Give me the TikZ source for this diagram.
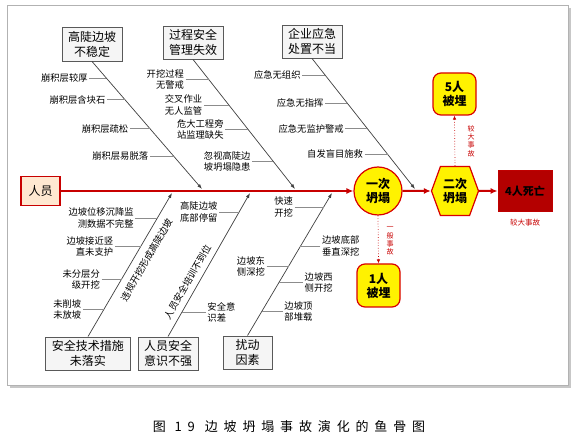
\documentclass[tikz,border=0pt]{standalone}
\usepackage{fontspec}
\setmainfont{Noto Sans CJK SC}
\newfontfamily\capfont[LetterSpace=45]{Noto Sans CJK SC}
\usetikzlibrary{shapes.symbols, arrows.meta, positioning, calc}
\definecolor{spinered}{RGB}{200,0,0}
\tikzstyle{cause}=[draw=black!65,fill=black!4,line width=0.9pt,align=center,font=\fontsize{12}{15}\selectfont,inner sep=3pt]
\tikzstyle{lab}=[font=\fontsize{9.3}{11.5}\selectfont,inner sep=1.5pt]
\tikzstyle{labl}=[lab,align=right]
\tikzstyle{labr}=[lab,align=left]
\tikzstyle{bone}=[draw=black!75,line width=0.7pt,-{Latex[length=5pt,width=3.5pt]}]
\tikzstyle{twig}=[draw=black!45,line width=0.5pt]
\tikzstyle{event}=[draw=red!85!black,fill=yellow,line width=1.2pt,align=center,font=\fontsize{12}{14}\selectfont\bfseries]
\tikzstyle{spine}=[draw=spinered,line width=2pt,-{Latex[length=7pt,width=6pt]}]
\tikzstyle{branch}=[draw=spinered,line width=0.7pt,dotted,-{Latex[length=4pt,width=3.5pt]}]
\tikzstyle{tag}=[text=spinered,align=center,inner sep=1pt]

\begin{document}
\begin{tikzpicture}[x=1pt,y=-1pt]
    \useasboundingbox (0,0) rectangle (582,438);
    % frame
    \fill[black!22] (10,8) rectangle (571,388);
    \draw[black!30,fill=white] (7,5) rectangle (568,385);

    % head and events
    \node[draw=spinered,fill=orange!18,line width=1.5pt,minimum width=39pt,minimum height=29pt,font=\fontsize{12}{14}\selectfont] (ry) at (40.5,191) {人员};
    \node[event,circle,minimum size=48pt,inner sep=0pt] (c1) at (378,191) {一次\\坍塌};
    \node[event,signal,signal to=east and west,signal pointer angle=140,minimum width=47pt,minimum height=49pt,inner sep=1pt] (c2) at (455,191) {二次\\坍塌};
    \node[draw=red!75!black,fill=spinered!90!black,line width=0.8pt,minimum width=54pt,minimum height=41pt,font=\fontsize{11}{13}\selectfont\bfseries] (d4) at (525,191) {4人死亡};
    \node[event,rounded corners=8pt,minimum width=43pt,minimum height=42pt] (b5) at (454.5,94) {5人\\被埋};
    \node[event,rounded corners=8pt,minimum width=43pt,minimum height=43pt] (b1) at (378.5,285.5) {1人\\被埋};
    \node[tag,font=\fontsize{7}{8.3}\selectfont] (g5) at (471,141) {较\\大\\事\\故};
    \node[tag,font=\fontsize{7}{8.3}\selectfont] (g1) at (390,241) {一\\般\\事\\故};
    \node[tag,font=\fontsize{7.5}{9}\selectfont] (g4) at (525,223) {较大事故};

    \draw[spine] (ry.east) -- (c1.west);
    \draw[spine] (c1) -- (c2);
    \draw[spine] (c2) -- (d4);
    \draw[branch] (c2.north) -- (b5.south);
    \draw[branch] (c1.south) -- (b1.north);

    % main causes
    \node[cause,minimum width=60pt,minimum height=34pt] (k1) at (92,44) {高陡边坡\\不稳定};
    \node[cause,minimum width=60pt,minimum height=33pt] (k2) at (193,42.5) {过程安全\\管理失效};
    \node[cause,minimum width=60pt,minimum height=33pt] (k3) at (312,41.5) {企业应急\\处置不当};
    \node[cause,minimum width=85pt,minimum height=33pt] (k4) at (88,353.5) {安全技术措施\\未落实};
    \node[cause,minimum width=60pt,minimum height=33pt] (k5) at (168,353.5) {人员安全\\意识不强};
    \node[cause,minimum width=49pt,minimum height=33pt] (k6) at (247.5,352.5) {扰动\\因素};

    \coordinate (e1) at (202,189);
    \coordinate (e2) at (295,189);
    \coordinate (e3) at (415,189);
    \coordinate (e4) at (172,193);
    \coordinate (e5) at (250,193);
    \coordinate (e6) at (332,193);

    \draw[bone] (k1.south) -- (e1);
    \draw[bone] (k2.south) -- (e2);
    \draw[bone] (k3.south) -- (e3);
    \draw[bone] (k4.north) -- (e4);
    \draw[bone] (k5.north) -- (e5);
    \draw[bone] (k6.north) -- (e6);
    \node[lab,rotate=60] (r4) at (146.5,260) {违规开挖形成高陡边坡};
    \node[lab,rotate=60] (r5) at (187.5,282) {人员安全培训不到位};

    % sub causes
    \coordinate (a11) at ($(k1.south)!0.13!(e1)$);
    \coordinate (a12) at ($(k1.south)!0.30!(e1)$);
    \coordinate (a13) at ($(k1.south)!0.527!(e1)$);
    \coordinate (a14) at ($(k1.south)!0.744!(e1)$);
    \node[labl,left=17pt of a11] (t11) {崩积层较厚};
    \node[labl,left=18pt of a12] (t12) {崩积层含块石};
    \node[labl,left=20pt of a13] (t13) {崩积层疏松};
    \node[labl,left=24pt of a14] (t14) {崩积层易脱落};
    \draw[twig] (t11) -- (a11);
    \draw[twig] (t12) -- (a12);
    \draw[twig] (t13) -- (a13);
    \draw[twig] (t14) -- (a14);

    \coordinate (a21) at ($(k2.south)!0.153!(e2)$);
    \coordinate (a22) at ($(k2.south)!0.351!(e2)$);
    \coordinate (a23) at ($(k2.south)!0.542!(e2)$);
    \coordinate (a24) at ($(k2.south)!0.786!(e2)$);
    \node[labl,left=23pt of a21] (t21) {开挖过程\\无警戒};
    \node[labl,left=25pt of a22] (t22) {交叉作业\\无人监管};
    \node[labl,left=23pt of a23] (t23) {危大工程旁\\站监理缺失};
    \node[labl,left=21pt of a24] (t24) {忽视高陡边\\坡坍塌隐患};
    \draw[twig] (t21) -- (a21);
    \draw[twig] (t22) -- (a22);
    \draw[twig] (t23) -- (a23);
    \draw[twig] (t24) -- (a24);

    \coordinate (a31) at ($(k3.south)!0.129!(e3)$);
    \coordinate (a32) at ($(k3.south)!0.341!(e3)$);
    \coordinate (a33) at ($(k3.south)!0.538!(e3)$);
    \coordinate (a34) at ($(k3.south)!0.735!(e3)$);
    \node[labl,left=23pt of a31] (t31) {应急无组织};
    \node[labl,left=22pt of a32] (t32) {应急无指挥};
    \node[labl,left=22pt of a33] (t33) {应急无监护警戒};
    \node[labl,left=23pt of a34] (t34) {自发盲目施救};
    \draw[twig] (t31) -- (a31);
    \draw[twig] (t32) -- (a32);
    \draw[twig] (t33) -- (a33);
    \draw[twig] (t34) -- (a34);

    \coordinate (a41) at ($(k4.north)!0.825!(e4)$);
    \coordinate (a42) at ($(k4.north)!0.629!(e4)$);
    \coordinate (a43) at ($(k4.north)!0.399!(e4)$);
    \coordinate (a44) at ($(k4.north)!0.189!(e4)$);
    \node[labl,left=22pt of a41] (t41) {边坡位移沉降监\\测数据不完整};
    \node[labl,left=26pt of a42] (t42) {边坡接近竖\\直未支护};
    \node[labl,left=20pt of a43] (t43) {未分层分\\级开挖};
    \node[labl,left=21pt of a44] (t44) {未削坡\\未放坡};
    \draw[twig] (t41) -- (a41);
    \draw[twig] (t42) -- (a42);
    \draw[twig] (t43) -- (a43);
    \draw[twig] (t44) -- (a44);

    \coordinate (a51) at ($(k5.north)!0.867!(e5)$);
    \coordinate (a52) at ($(k5.north)!0.168!(e5)$);
    \node[labl,left=20pt of a51] (t51) {高陡边坡\\底部停留};
    \node[labr,right=24pt of a52] (t52) {安全意\\识差};
    \draw[twig] (t51) -- (a51);
    \draw[twig] (t52) -- (a52);

    \coordinate (a61) at ($(k6.north)!0.901!(e6)$);
    \coordinate (a62) at ($(k6.north)!0.486!(e6)$);
    \coordinate (a63) at ($(k6.north)!0.627!(e6)$);
    \coordinate (a64) at ($(k6.north)!0.373!(e6)$);
    \coordinate (a65) at ($(k6.north)!0.169!(e6)$);
    \node[labl,left=29pt of a61] (t61) {快速\\开挖};
    \node[labl,left=22pt of a62] (t62) {边坡东\\侧深挖};
    \node[labr,right=20pt of a63] (t63) {边坡底部\\垂直深挖};
    \node[labr,right=24pt of a64] (t64) {边坡西\\侧开挖};
    \node[labr,right=21pt of a65] (t65) {边坡顶\\部堆载};
    \draw[twig] (t61) -- (a61);
    \draw[twig] (t62) -- (a62);
    \draw[twig] (t63) -- (a63);
    \draw[twig] (t64) -- (a64);
    \draw[twig] (t65) -- (a65);

    % caption
    \node[font=\capfont\fontsize{13}{15}\selectfont] (cap) at (289,427) {图~19\hspace{10pt}边坡坍塌事故演化的鱼骨图};
\end{tikzpicture}
\end{document}
